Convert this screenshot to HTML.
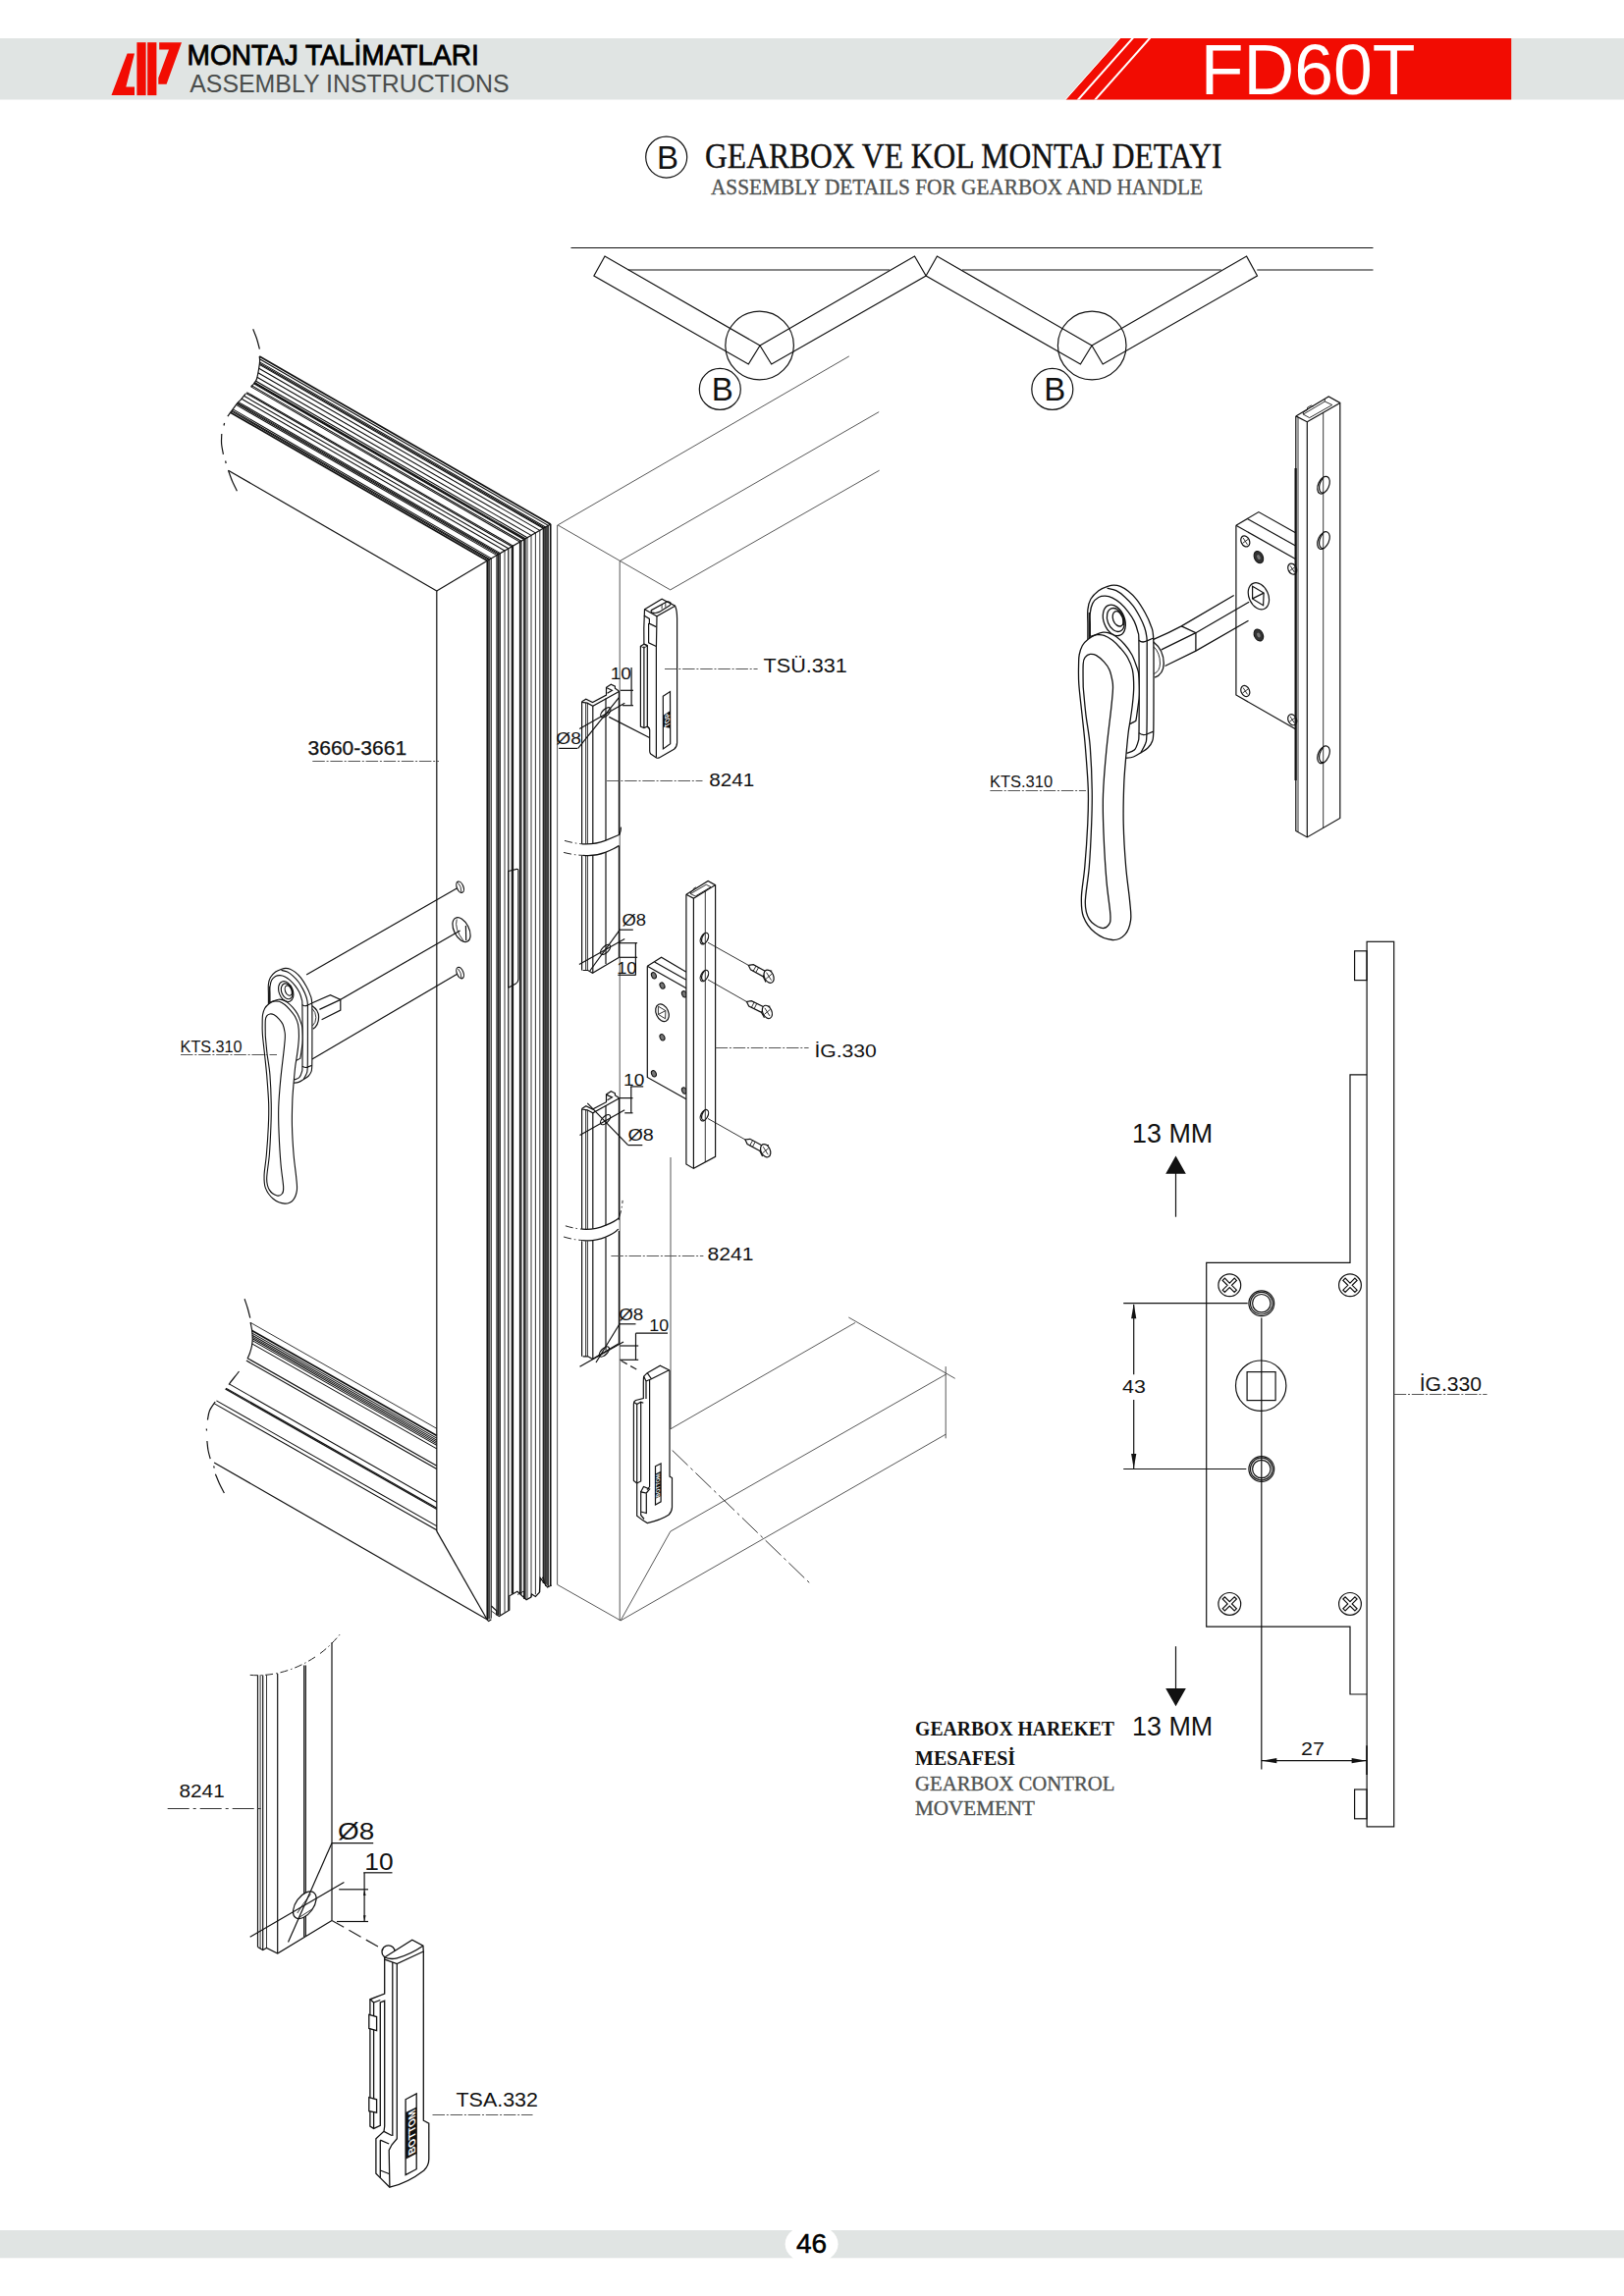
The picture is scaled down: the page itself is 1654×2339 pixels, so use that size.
<!DOCTYPE html>
<html lang="tr"><head><meta charset="utf-8"><title>FD60T - Montaj Talimatları</title>
<style>
html,body{margin:0;padding:0;background:#fff}
body{width:1654px;height:2339px;overflow:hidden}
svg{display:block}
svg *{fill:none}
.k{stroke:#111;stroke-width:1.2}
.k2{stroke:#111;stroke-width:1.7}
.m{stroke:#111;stroke-width:1.2}
.h{stroke:#111;stroke-width:1.3}
.hw{stroke:#111;stroke-width:1.3;fill:#fff}
.t{stroke:#111;stroke-width:.85}
.tr{stroke:#0a0a0a;stroke-width:1.05}
.g{stroke:#3a3a3a;stroke-width:.85}
.w{stroke:#111;stroke-width:1.2;fill:#fff}
.wf{stroke:none;fill:#fff}
.d{stroke:#555;stroke-width:1;stroke-dasharray:12.5 1.8 2 1.8}
.dd{stroke:#222;stroke-width:1.2;stroke-dasharray:14 6}
.dg{stroke:#333;stroke-width:1;stroke-dasharray:22 4 3 4}
.br{stroke:#222;stroke-width:1;stroke-dasharray:8 3 1.5 3}
.f{fill:#111;stroke:none}
text{font-family:"Liberation Sans",Arial,sans-serif;fill:#111;stroke:none}
text.s{fill:#111}
text.sb{fill:#000;stroke:#000;stroke-width:.5}
text.gr{fill:#4a4d4c}
text.wh{fill:#fff}
text.se{font-family:"Liberation Serif","Times New Roman",serif;fill:#111;stroke:#111;stroke-width:.4}
text.seg{font-family:"Liberation Serif","Times New Roman",serif;fill:#505352;stroke:#505352;stroke-width:.35}
text.seb{font-family:"Liberation Serif","Times New Roman",serif;fill:#111;font-weight:bold}
</style></head>
<body>
<svg width="1654" height="2339" viewBox="0 0 1654 2339">
<rect x="0" y="39" width="1654" height="62.5" style="fill:#e0e4e3;stroke:none"/>
<polygon points="1141,39 1539.2,39 1539.2,101.5 1085.5,101.5" style="fill:#f20c02;stroke:none"/>
<line x1="1140.6" y1="39" x2="1085.1" y2="101.5" style="stroke:#fff;stroke-width:1"/>
<polygon points="1152.2,39 1154.9,39 1099.4,101.5 1096.7,101.5" style="fill:#fff;stroke:none"/>
<polygon points="1169.6,39 1172.3,39 1116.8,101.5 1114.1,101.5" style="fill:#fff;stroke:none"/>
<text class="wh" x="1222.8" y="96" font-size="71.6">FD60T</text>
<g style="fill:#f20c02;stroke:none">
<polygon style="fill:#f20c02" points="129.6,54.6 137,54.6 128.3,88.5 137,88.5 137,97.1 113.5,97.1"/>
<rect style="fill:#f20c02" x="139.4" y="43.2" width="9.2" height="53.9"/>
<rect style="fill:#f20c02" x="150.2" y="43.2" width="9.2" height="53.9"/>
<polygon style="fill:#f20c02" points="162.2,43.2 185,43.2 169.6,85.7 161.3,85.7 161.3,79.3 172,50.6 162.2,50.6"/>
</g>
<text class="sb" x="190.6" y="65.8" font-size="28.6" textLength="297.2" lengthAdjust="spacingAndGlyphs" style="stroke-width:.8">MONTAJ TALİMATLARI</text>
<text class="gr" x="193.2" y="94.3" font-size="24.9">ASSEMBLY INSTRUCTIONS</text>
<circle class="k" cx="678.7" cy="160.1" r="21"/>
<text class="s" x="679.9" y="171.7" font-size="33" text-anchor="middle">B</text>
<text class="se" x="718.1" y="171.2" font-size="36" textLength="526.5" lengthAdjust="spacingAndGlyphs">GEARBOX VE KOL MONTAJ DETAYI</text>
<text class="seg" x="724" y="198" font-size="23" textLength="501" lengthAdjust="spacingAndGlyphs">ASSEMBLY DETAILS FOR GEARBOX AND HANDLE</text>
<rect x="0" y="2272" width="1654" height="28.3" style="fill:#e0e4e3;stroke:none"/>
<ellipse cx="826.6" cy="2286" rx="27" ry="20" style="fill:#fff;stroke:none"/>
<text class="sb" x="826.6" y="2294.6" font-size="28" text-anchor="middle">46</text>
<line class="k" x1="581.5" y1="252.5" x2="1398.5" y2="252.5"/>
<line class="k" x1="639.8" y1="275" x2="906.2" y2="275"/>
<line class="k" x1="979.8" y1="275" x2="1243.8" y2="275"/>
<line class="k" x1="1280.3" y1="275" x2="1398.5" y2="275"/>
<polyline class="k" points="774,352 616,261 604.9,281 762.3,371 774,352"/>
<polyline class="k" points="774,352 931.5,261 943.1,281 785.7,371 774,352"/>
<polyline class="k" points="1112,352 954.4,261 943.1,281 1100.4,371 1112,352"/>
<polyline class="k" points="1112,352 1269.6,261 1280.5,281 1123.2,371 1112,352"/>
<circle class="k" cx="773.6" cy="352" r="34.8"/>
<circle class="k" cx="1112.2" cy="352" r="34.8"/>
<circle class="k" cx="733.3" cy="396.4" r="21"/>
<circle class="k" cx="1071.8" cy="396.4" r="21"/>
<text class="s" x="735.7" y="407.9" font-size="33" text-anchor="middle">B</text>
<text class="s" x="1074.2" y="407.9" font-size="33" text-anchor="middle">B</text>
<polygon class="f" points="555.6,537 558.4,535.4 558.4,1616.5 555.6,1613" style="fill:#484848"/>
<line class="k2" x1="234.7" y1="420.2" x2="496.3" y2="571.2"/>
<line class="k2" x1="496.3" y1="570.9" x2="496.3" y2="1650"/>
<line class="tr" x1="235.7" y1="418.9" x2="497.9" y2="570.3"/>
<line class="k" x1="497.9" y1="570" x2="497.9" y2="1649.5"/>
<line class="tr" x1="236.3" y1="418.1" x2="498.9" y2="569.7"/>
<line class="t" x1="498.9" y1="569.4" x2="498.9" y2="1649.2"/>
<line class="tr" x1="237.2" y1="416.9" x2="500.4" y2="568.9"/>
<line class="t" x1="500.4" y1="568.6" x2="500.4" y2="1648.7"/>
<line class="tr" x1="240.5" y1="412.4" x2="506" y2="565.6"/>
<line class="k" x1="506" y1="565.3" x2="506" y2="1645.3"/>
<line class="tr" x1="241.3" y1="411.3" x2="507.3" y2="564.9"/>
<line class="k" x1="507.3" y1="564.6" x2="507.3" y2="1645.3"/>
<line class="tr" x1="241.9" y1="410.5" x2="508.3" y2="564.3"/>
<line class="t" x1="508.3" y1="564" x2="508.3" y2="1645.3"/>
<line class="tr" x1="242.8" y1="409.6" x2="509.5" y2="563.6"/>
<line class="t" x1="509.5" y1="563.3" x2="509.5" y2="1645.3"/>
<line class="tr" x1="246" y1="406.3" x2="514" y2="561"/>
<line class="t" x1="514" y1="560.7" x2="514" y2="1642.6"/>
<line class="tr" x1="248.4" y1="403.3" x2="517.8" y2="558.8"/>
<line class="k" x1="517.8" y1="558.5" x2="517.8" y2="1640.7"/>
<line class="tr" x1="250.6" y1="400.5" x2="521.3" y2="556.8"/>
<line class="k" x1="521.3" y1="556.5" x2="521.3" y2="1623.8"/>
<line class="tr" x1="251.4" y1="399.6" x2="522.5" y2="556.1"/>
<line class="k" x1="522.5" y1="555.8" x2="522.5" y2="1623.8"/>
<line class="tr" x1="255.6" y1="393.9" x2="529.5" y2="552.1"/>
<line class="k" x1="529.5" y1="551.8" x2="529.5" y2="1623.8"/>
<line class="tr" x1="256.6" y1="392.9" x2="530.9" y2="551.3"/>
<line class="k" x1="530.9" y1="551" x2="530.9" y2="1624.5"/>
<line class="k2" x1="258.7" y1="390.5" x2="534" y2="549.5"/>
<line class="k2" x1="534" y1="549.2" x2="534" y2="1629"/>
<line class="tr" x1="259.3" y1="389.5" x2="535.2" y2="548.8"/>
<line class="t" x1="535.2" y1="548.5" x2="535.2" y2="1629"/>
<line class="tr" x1="260.3" y1="388" x2="537" y2="547.7"/>
<line class="t" x1="537" y1="547.4" x2="537" y2="1629"/>
<line class="tr" x1="261.8" y1="384.2" x2="541" y2="545.4"/>
<line class="t" x1="541" y1="545.1" x2="541" y2="1627"/>
<line class="tr" x1="262.8" y1="379.7" x2="545.4" y2="542.9"/>
<line class="t" x1="545.4" y1="542.6" x2="545.4" y2="1624.3"/>
<line class="tr" x1="263.7" y1="375.2" x2="549.8" y2="540.4"/>
<line class="t" x1="549.8" y1="540.1" x2="549.8" y2="1622"/>
<line class="tr" x1="264.2" y1="371.4" x2="553.3" y2="538.3"/>
<line class="k" x1="553.3" y1="538" x2="553.3" y2="1613"/>
<line class="tr" x1="264.3" y1="370.2" x2="554.4" y2="537.7"/>
<line class="t" x1="554.4" y1="537.4" x2="554.4" y2="1613"/>
<line class="tr" x1="264.5" y1="368.9" x2="555.6" y2="537"/>
<line class="t" x1="555.6" y1="536.7" x2="555.6" y2="1616"/>
<line class="tr" x1="264.4" y1="365.7" x2="558.4" y2="535.4"/>
<line class="t" x1="558.4" y1="535.1" x2="558.4" y2="1616"/>
<line class="k2" x1="264.2" y1="362.9" x2="560.7" y2="534.1"/>
<line class="k2" x1="560.7" y1="533.8" x2="560.7" y2="1616"/>
<path class="k" d="M264.2 363.1C264.3 363.9 264.7 365.9 264.6 368C264.5 370.1 264.1 372.7 263.6 375.7C263.1 378.7 262.3 383.6 261.4 386.2C260.5 388.8 259.3 389.7 258.4 391C257.4 392.3 256.1 393.3 255.7 393.8"/>
<path class="k" d="M250.2 401C249.4 402 246.7 405.5 245.3 407.1C243.9 408.7 243.3 408.7 241.8 410.6C240.3 412.5 237.8 416.1 236.1 418.4C234.4 420.6 232.5 423.2 231.8 424.1"/>
<line class="k" x1="496.2" y1="571.3" x2="560.7" y2="534.1"/>
<polyline class="k" points="495.9,1649.8 497.7,1651.6 500.4,1649.8"/>
<polyline class="k" points="500.4,1636 505.8,1641 505.8,1645 508.4,1646.5 518.8,1640.2 518.8,1625.8 526.9,1621.3 536.1,1629.8 540.9,1627 541.5,1624 545.4,1626.5 549.4,1622.2 550.2,1607.3 557.6,1617 561.6,1615"/>
<polyline class="t" points="500.4,1641 505.8,1645"/>
<polyline class="t" points="527,1624.5 533.6,1621 533.6,1627.5"/>
<polyline class="t" points="550.3,1611 553.2,1606.5 555,1613"/>
<line class="k" x1="232.5" y1="479.2" x2="444.8" y2="602"/>
<line class="k" x1="444.8" y1="602" x2="496.2" y2="571.3"/>
<line class="k" x1="444.8" y1="602" x2="444.8" y2="1559.9"/>
<line class="k" x1="444.8" y1="1559.9" x2="496" y2="1649.7"/>
<line class="k" x1="496" y1="1649.7" x2="218.1" y2="1490"/>
<line class="t" x1="255.2" y1="1347.4" x2="444.8" y2="1455.3"/>
<line class="k2" x1="256.6" y1="1355.5" x2="444.8" y2="1462.6"/>
<line class="tr" x1="256.8" y1="1358.1" x2="444.8" y2="1465.1"/>
<line class="tr" x1="256.9" y1="1360.2" x2="444.8" y2="1467.1"/>
<line class="tr" x1="257.1" y1="1362.1" x2="444.8" y2="1468.9"/>
<line class="tr" x1="257.2" y1="1363.8" x2="444.8" y2="1470.6"/>
<line class="tr" x1="257" y1="1365.6" x2="444.8" y2="1472.4"/>
<line class="tr" x1="256.7" y1="1368.9" x2="444.8" y2="1475.9"/>
<line class="k" x1="252.2" y1="1383.7" x2="444.8" y2="1493.3"/>
<line class="k" x1="250.9" y1="1386.1" x2="444.8" y2="1496.4"/>
<line class="tr" x1="233.4" y1="1409.9" x2="444.8" y2="1530.2"/>
<line class="k" x1="230.1" y1="1414.2" x2="444.8" y2="1536.3"/>
<line class="k" x1="229.5" y1="1415" x2="444.8" y2="1537.5"/>
<line class="tr" x1="220.4" y1="1426.9" x2="444.8" y2="1554.6"/>
<line class="tr" x1="218.3" y1="1429.9" x2="444.8" y2="1558.8"/>
<path class="k" d="M255.1 1347.1C255.3 1348.4 256.2 1352.2 256.6 1355C257 1357.8 257.2 1361.3 257.2 1364C257.2 1366.7 256.9 1368.7 256.5 1371C256.1 1373.3 255.3 1375.8 254.6 1378C253.9 1380.2 252.5 1383.1 252.1 1384.1"/>
<path class="k" d="M243.5 1397C242.6 1398.2 239.8 1401.8 238 1404C236.2 1406.2 233.8 1409.4 233 1410.5"/>
<path class="m" d="M257.7 335.2C258.3 336.8 260.4 341.6 261.5 345C262.6 348.4 263.9 353.9 264.4 355.7"/>
<path class="m" d="M228.6 431C228.5 431.4 228.1 433.1 228 433.5"/>
<path class="m" d="M225.8 441.9C225.8 443.6 225.3 448.5 225.6 452C225.9 455.5 227.1 461 227.4 462.8"/>
<path class="m" d="M229.6 469.5C229.7 469.9 230.1 471.6 230.2 472"/>
<path class="m" d="M232.5 479.2C233.2 481 235 486.5 236.5 490C238 493.5 240.6 498.6 241.4 500.3"/>
<path class="m" d="M249.1 1323.3C249.6 1324.9 251.4 1329.8 252.3 1333C253.2 1336.2 254.4 1341.1 254.8 1342.7"/>
<path class="m" d="M219.2 1428C218.2 1429.5 214.8 1433.9 213.5 1437C212.2 1440.1 211.8 1444.9 211.4 1446.5"/>
<path class="m" d="M210.3 1455.5C210.3 1455.8 210.5 1457.2 210.5 1457.5"/>
<path class="m" d="M210.9 1468C211.1 1469.6 211.4 1474.5 212 1477.5C212.6 1480.5 213.8 1484.8 214.2 1486.2"/>
<path class="m" d="M217.6 1493.5C217.7 1493.8 218.2 1495.2 218.3 1495.5"/>
<path class="m" d="M219.4 1501.7C220.1 1503.3 222 1508.3 223.5 1511.5C225 1514.7 227.6 1519.5 228.4 1521.1"/>
<path class="k" d="M517.6 887.5L526.3 885.4Q527.9 885.2 527.9 887V997.5Q527.9 1000.5 525.5 1002L517.6 1006.2"/>
<line class="k" x1="517.6" y1="887.5" x2="517.6" y2="1006.2"/>
<text class="s" x="313.5" y="769.3" font-size="19.6" textLength="100.6" lengthAdjust="spacingAndGlyphs" style="stroke:#111;stroke-width:.25">3660-3661</text>
<line class="d" x1="318.3" y1="775.5" x2="447" y2="775.5"/>
<line class="g" x1="568.1" y1="534.9" x2="864.8" y2="362.9"/>
<line class="g" x1="568.1" y1="534.9" x2="682.7" y2="600.9"/>
<line class="g" x1="631.2" y1="571.6" x2="895.2" y2="419.6"/>
<line class="g" x1="682.7" y1="600.9" x2="895.6" y2="479.2"/>
<line class="g" x1="567.6" y1="534.9" x2="567.6" y2="1614.3"/>
<line class="g" x1="567.6" y1="1614.3" x2="632.1" y2="1650.9"/>
<line class="g" x1="631.2" y1="571.6" x2="631.2" y2="1650.9"/>
<line class="g" x1="683" y1="1179" x2="683" y2="1455.8"/>
<line class="g" x1="682.8" y1="1455.8" x2="871.1" y2="1347.4"/>
<line class="g" x1="864.3" y1="1342" x2="972.7" y2="1404.3"/>
<line class="g" x1="682.8" y1="1560.1" x2="963.2" y2="1400.2"/>
<line class="g" x1="682.8" y1="1560.1" x2="632.1" y2="1650.9"/>
<line class="g" x1="632.1" y1="1650.9" x2="963.2" y2="1461.2"/>
<line class="g" x1="963.2" y1="1392.1" x2="963.2" y2="1465.3"/>
<line class="dg" x1="684.7" y1="1477.5" x2="826.3" y2="1614.3"/>
<line class="k" x1="312.1" y1="993.1" x2="465.2" y2="905.1"/>
<line class="k" x1="346.8" y1="1018.3" x2="468.6" y2="948.1"/>
<line class="k" x1="317.9" y1="1079" x2="465.2" y2="992.5"/>
<ellipse class="m" cx="468.6" cy="903.7" rx="3.3" ry="6" transform="rotate(-22 468.6 903.7)"/>
<path class="t" d="M466.6 899.5Q470 903 469.8 909"/>
<ellipse class="m" cx="468.6" cy="991.1" rx="3.3" ry="6" transform="rotate(-22 468.6 991.1)"/>
<path class="t" d="M466.6 987Q470 990.5 469.8 996.5"/>
<ellipse class="k" cx="470" cy="947.1" rx="7.6" ry="13.4" transform="rotate(-27 470 947.1)"/>
<path class="t" d="M465.2 936.5Q462.5 946 472 958.5"/>
<line class="m" x1="474.4" y1="943" x2="474.7" y2="958"/>
<polyline class="k" points="318,1021.7 336.5,1013.6 346.8,1018.4 346.8,1029.1 327.6,1038.7"/>
<line class="k" x1="346.8" y1="1018.4" x2="325.4" y2="1028.4"/>
<path class="k" d="M318 1024.7Q324.6 1029 324.6 1036Q324.6 1044.6 318.7 1048.3"/>
<path class="t" d="M318 1027.5Q321.8 1031 321.8 1036.5Q321.8 1042 318.3 1045"/>
<g transform="translate(-461.7 590.8) scale(0.6635)" style="stroke-width:1.7">
<path class="hw" d="M1107.9 652C1107.9 649.3 1107.9 641.2 1107.9 636C1107.9 630.8 1107.4 625.1 1107.9 620.8C1108.4 616.5 1109.1 613.5 1110.9 610.3C1112.7 607.1 1116 603.9 1118.9 601.7C1121.8 599.6 1125.6 598.3 1128.2 597.4C1130.8 596.5 1132.2 596.2 1134.3 596.2C1136.4 596.2 1138.6 596.4 1141.1 597.4C1143.6 598.4 1146.3 600 1149.1 602.3C1151.9 604.5 1154.8 607.2 1157.7 610.9C1160.6 614.6 1164 620.2 1166.4 624.5C1168.8 628.8 1170.5 632.5 1171.9 636.8C1173.3 641.1 1174.2 639.8 1174.7 650.3C1175.2 660.8 1175 684.2 1175 700C1175 715.8 1175 735.8 1174.8 745C1174.5 754.2 1174.4 752.5 1173.5 755.3C1172.6 758.1 1171.1 759.9 1169.2 761.8C1167.3 763.7 1164.7 765.1 1162.2 766.6C1159.7 768.1 1157 770 1154.4 771C1151.8 772 1147.8 772.1 1146.5 772.3" style="stroke-width:inherit"/>
<line class="h" x1="1109.3" y1="624" x2="1109.3" y2="650" style="stroke-width:inherit"/>
<path class="h" d="M1127.6 599.2C1129.1 599.6 1133.8 600.2 1136.8 601.7C1139.8 603.2 1142.5 605.3 1145.4 607.9C1148.3 610.5 1151.4 613.7 1154 617.1C1156.6 620.5 1158.8 624.5 1160.8 628.2C1162.8 631.9 1164.5 635.8 1165.7 639.3C1166.9 642.8 1167.5 645.6 1167.9 649.1C1168.3 652.6 1168.2 651.5 1168.2 660C1168.2 668.5 1168.2 685.4 1168.2 700C1168.2 714.6 1168.2 738.3 1167.9 747.9C1167.6 757.5 1167.5 754.5 1166.6 757.5C1165.6 760.5 1162.9 764.8 1162.2 766.2" style="stroke-width:inherit"/>
<path class="h" d="M1110.3 648.5C1110.3 646.4 1110.3 640 1110.3 636C1110.3 632 1109.9 628.1 1110.3 624.5C1110.7 620.9 1111.4 617.3 1112.8 614.6C1114.2 611.9 1116.8 609.7 1118.9 608.5C1121.1 607.3 1123.3 607.1 1125.7 607.2C1128.1 607.3 1130.5 607.9 1133.1 609.1C1135.7 610.3 1138.4 612.2 1141.1 614.6C1143.8 617 1146.7 620.2 1149.1 623.3C1151.5 626.4 1153.6 629.6 1155.3 633.1C1157 636.6 1158.2 641 1159 644.2C1159.8 647.4 1159.7 642.9 1159.9 652.2C1160.1 661.5 1160.2 684.3 1160.2 700C1160.2 715.7 1160.2 737.4 1160 746.6C1159.8 755.8 1160 752.4 1159.2 755.3C1158.4 758.2 1157.3 762 1155.3 764C1153.3 766 1148.7 766.9 1147.4 767.5" style="stroke-width:inherit"/>
<path class="h" d="M1159.9 652.2Q1163.3 655.5 1168.2 652.8L1174.7 650" style="stroke-width:inherit"/>
<path class="h" d="M1160 746.6Q1163 749.6 1167.9 748L1174.8 745.2" style="stroke-width:inherit"/>
<ellipse class="h" cx="1134.8" cy="631.9" rx="10.6" ry="16.4" transform="rotate(-21 1134.8 631.9)" style="stroke-width:inherit"/>
<ellipse class="h" cx="1136.3" cy="631.5" rx="8.3" ry="12.4" transform="rotate(-21 1136.3 631.5)" style="stroke-width:inherit"/>
<ellipse class="h" cx="1138.8" cy="630.3" rx="5.2" ry="8" transform="rotate(-21 1138.8 630.3)" style="stroke-width:inherit"/>
<path class="h" d="M1138.5 622.5Q1144.5 627 1144.2 637" style="stroke-width:inherit"/>
<path class="hw" d="M1146.6 772.5C1146.3 777 1145.1 788.4 1144.7 799.4C1144.3 810.4 1143.9 824.8 1144.2 838.8C1144.5 852.8 1145.6 870.1 1146.7 883.2C1147.8 896.3 1149.8 908.6 1150.6 917.6C1151.4 926.6 1152.4 931.5 1151.6 937.3C1150.8 943 1148.8 948.7 1145.7 952.1C1142.6 955.5 1138 957.8 1132.9 957.5C1127.8 957.2 1120.1 954.1 1115.2 950.1C1110.3 946.1 1105.6 939.5 1103.3 933.4C1101 927.3 1101.2 922.1 1101.4 913.7C1101.7 905.3 1103.7 895.7 1104.8 883.2C1105.9 870.7 1107.2 851.9 1107.8 838.8C1108.4 825.6 1108.7 817.4 1108.3 804.3C1107.9 791.2 1106.3 772.8 1105.3 760C1104.2 747.2 1103.1 738.3 1102 727.8C1100.9 717.3 1099.4 705.6 1098.8 697C1098.2 688.4 1098.5 681 1098.6 676C1098.7 671 1098.6 670 1099.2 667C1099.8 664 1100.8 660.4 1102.3 657.7C1103.8 655 1106.2 652.8 1108.5 651C1110.8 649.2 1113.4 647.8 1115.9 646.7C1118.4 645.6 1121 644.5 1123.3 644.2C1125.5 643.9 1127.2 644.1 1129.4 644.8C1131.7 645.5 1134.1 646.5 1136.8 648.5C1139.5 650.5 1142.7 653.4 1145.4 656.5C1148.1 659.6 1150.8 663.2 1152.8 667C1154.8 670.8 1156.6 676.1 1157.7 679.3C1158.8 682.5 1159.2 682.5 1159.6 686C1160 689.5 1160.1 695.7 1160.2 700C1160.3 704.3 1160.3 707.7 1160 711.8C1159.7 715.9 1158.8 721.2 1158.3 724.8C1157.8 728.4 1157.4 731.8 1157 733.5C1156.6 735.2 1157.1 734.1 1156.1 734.8C1155.1 735.5 1151.9 736.9 1150.9 737.5C1150 738.1 1150.7 737.1 1150.4 738.5C1150.1 739.9 1149.7 741.8 1149.2 746C1148.7 750.2 1147.8 759.6 1147.4 764C1147 768.4 1146.7 771.1 1146.6 772.5" style="stroke-width:inherit"/>
<path class="h" d="M1110.3 648.5C1111.4 648.2 1114.7 646.9 1117.1 646.7C1119.5 646.5 1121.8 646.4 1124.5 647.3C1127.2 648.2 1130.3 650.1 1133.1 652.2C1135.9 654.4 1138.5 657.2 1141.1 660.2C1143.7 663.2 1146.5 666.3 1148.5 670C1150.5 673.7 1152.4 677.4 1153.4 682.4C1154.4 687.4 1154.7 694 1154.7 700C1154.7 706 1154 712 1153.3 718.3C1152.6 724.6 1151 734.6 1150.5 737.9" style="stroke-width:inherit"/>
<path class="h" d="M1103.2 700C1103.2 696 1102.8 681.3 1103.2 676.2C1103.6 671.1 1104.2 671 1105.4 669.4C1106.6 667.8 1108.5 666.7 1110.3 666.4C1112.1 666.1 1114.1 666.3 1116.5 667.6C1118.9 668.9 1122.2 671.9 1124.5 674.4C1126.8 676.9 1128.6 679 1130 682.4C1131.4 685.8 1132.5 691.3 1133.1 694.7C1133.7 698.1 1133.6 698.5 1133.4 703C1133.2 707.5 1132.8 711.3 1131.7 721.6C1130.6 731.9 1128.2 750.1 1126.8 764.7C1125.4 779.3 1124 795.3 1123.5 809.3C1123 823.3 1123.4 833.9 1124 848.7C1124.6 863.5 1125.8 884 1127 897.9C1128.2 911.8 1130.6 925 1130.9 932.4C1131.2 939.8 1130.6 940.2 1129 942.3C1127.4 944.4 1124.4 946.2 1121.1 945.2C1117.8 944.2 1111.9 940.7 1109.3 936.4C1106.7 932.1 1105.3 928.5 1105.3 919.6C1105.3 910.7 1108.2 896.7 1109.3 883.2C1110.4 869.7 1111.2 851.9 1111.7 838.8C1112.2 825.6 1112.5 817.4 1112.2 804.3C1112 791.2 1111.2 772.8 1110.2 760C1109.2 747.2 1107.1 737.8 1105.9 727.8C1104.7 717.8 1103.7 704.6 1103.2 700" style="stroke-width:inherit"/>
</g>
<text class="s" x="183.6" y="1071.8" font-size="16" textLength="63" lengthAdjust="spacingAndGlyphs">KTS.310</text>
<line class="d" x1="184" y1="1074.5" x2="282" y2="1074.5"/>
<path class="w" d="M656.5 620.8L674.1 610.2L687.6 617.2Q689.6 622 689.6 630V756.6Q689.4 761 686.5 763.2L671.3 771.9Q669.8 772.6 668.6 771.9L662.7 768Q661.7 767 661.7 765V744Q661.7 741.8 659.2 740.2V657.5L655.9 656L655.8 640Z"/>
<path class="m" d="M656.5 620.8L669 627.8L687.6 617.2"/>
<path class="m" d="M663.4 621.6L678.6 613.2Q681.2 612 683 614.2Q683.8 615.6 681.8 616.9L671.4 623.4Q667.5 625.2 664.6 624Q662.3 623 663.4 621.6Z"/>
<path class="t" d="M674.1 616V620.4M677.8 614V618.6"/>
<path class="m" d="M669 627.8L668.4 660V771.8"/>
<path class="m" d="M655.9 627L661.4 630.4V635.2M660.6 634.9L668.4 638.6M660.6 634.9V654.9L668.4 658.5"/>
<path class="w" d="M652.4 740V658.3L655.9 656.2L659.3 658V740L655.9 741.5Z"/>
<line class="m" x1="655.9" y1="658.5" x2="655.9" y2="741.3"/>
<path class="t" d="M652.4 658.3L655.9 660L659.3 658"/>
<path class="m" d="M659.3 739.9Q661.8 741.4 661.8 743.6"/>
<polygon class="m" points="675.3,709.2 682.5,704.5 682.7,757.8 675.4,762.9"/>
<polygon class="f" points="675.3,729 682.6,724 682.6,741.8 675.3,740.5"/>
<text transform="matrix(0 -1 1 -0.65 681.9 739.2)" font-size="7" textLength="14" lengthAdjust="spacingAndGlyphs" style="fill:#fff;font-weight:bold">TOP</text>
<line class="m" x1="620.3" y1="730.4" x2="661.5" y2="751.5"/>
<text class="s" x="777.6" y="685.1" font-size="19.6" textLength="85.2" lengthAdjust="spacingAndGlyphs">TSÜ.331</text>
<line class="d" x1="677" y1="681.5" x2="771.6" y2="681.5"/>
<line class="k" x1="592.6" y1="714.8" x2="592.6" y2="859.7"/>
<line class="k" x1="592.6" y1="871.7" x2="592.6" y2="988.5"/>
<line class="t" x1="596.6" y1="716" x2="596.6" y2="859.7"/>
<line class="t" x1="596.6" y1="871.7" x2="596.6" y2="988.5"/>
<line class="t" x1="598.4" y1="716.2" x2="598.4" y2="859.7"/>
<line class="t" x1="598.4" y1="871.7" x2="598.4" y2="988.5"/>
<line class="k" x1="603.8" y1="719.2" x2="603.8" y2="859.4"/>
<line class="k" x1="603.8" y1="871.4" x2="603.8" y2="991.3"/>
<line class="k" x1="617" y1="711.4" x2="617" y2="856.1"/>
<line class="k" x1="617" y1="868.1" x2="617" y2="982.1"/>
<line class="k" x1="630.4" y1="704" x2="630.4" y2="850.4"/>
<line class="k" x1="630.4" y1="861.4" x2="630.4" y2="975.2"/>
<path class="m" d="M592.6 714.8L596.8 712.2L603.5 715.5L617.5 708.1L617.5 700.3L622.3 697.2L626.4 699.2L626.4 701.2L630.4 704"/>
<path class="m" d="M592.6 715.4L598.2 716.2L603.8 719.2L630.4 704.4"/>
<path class="m" d="M618 700.8L623.4 703.3L618.5 706.2"/>
<path class="m" d="M593.6 988.5L598.8 988.5L603.5 991.3L630.6 975.2"/>
<path class="m" d="M593 859.8Q606 860.5 616.4 856.4Q627 852 631 850.3"/>
<path class="br" d="M575 856.4Q584 859 593 859.8"/>
<path class="m" d="M631 850.3Q632.6 846 632.4 842.6"/>
<path class="m" d="M594 871.4Q606 872.5 616.4 868.4Q626 864.8 630.2 861.6"/>
<path class="br" d="M574.1 868.4Q584 871 594 871.4"/>
<path class="wf" d="M630.9 861.4V850.5"/>
<ellipse class="m" cx="616.8" cy="725.8" rx="6.4" ry="3.2" transform="rotate(-45 616.8 725.8)"/>
<line class="m" x1="588.7" y1="762.4" x2="630.4" y2="710.7"/>
<line class="m" x1="590.2" y1="742.5" x2="636.3" y2="716.2"/>
<text class="s" x="566.3" y="757.5" font-size="17" textLength="25.6" lengthAdjust="spacingAndGlyphs">Ø8</text>
<line class="m" x1="569.2" y1="762.4" x2="588.3" y2="762.4"/>
<text class="s" x="621.7" y="691.6" font-size="17" textLength="21.2" lengthAdjust="spacingAndGlyphs">10</text>
<line class="m" x1="643.1" y1="679.9" x2="643.1" y2="718.7"/>
<line class="m" x1="632" y1="703.3" x2="645" y2="703.3"/>
<line class="m" x1="633.9" y1="718.7" x2="645" y2="718.7"/>
<text class="s" x="722.2" y="801.2" font-size="18" textLength="46.1" lengthAdjust="spacingAndGlyphs">8241</text>
<line class="d" x1="618.1" y1="795.5" x2="715.5" y2="795.5"/>
<ellipse class="m" cx="616.6" cy="967.4" rx="6.4" ry="3.2" transform="rotate(-45 616.6 967.4)"/>
<line class="m" x1="630.6" y1="948.2" x2="600.8" y2="989"/>
<line class="m" x1="636.2" y1="956.5" x2="589.9" y2="982.6"/>
<text class="s" x="633.4" y="942.6" font-size="17" textLength="24.6" lengthAdjust="spacingAndGlyphs">Ø8</text>
<line class="m" x1="631" y1="947.2" x2="644.8" y2="947.2"/>
<line class="m" x1="631" y1="960.7" x2="649.1" y2="960.7"/>
<line class="m" x1="631" y1="975.3" x2="649.1" y2="975.3"/>
<line class="m" x1="647.4" y1="960.7" x2="647.4" y2="993.4"/>
<text class="s" x="628.2" y="991.7" font-size="17" textLength="20.3" lengthAdjust="spacingAndGlyphs">10</text>
<line class="m" x1="629.3" y1="993.3" x2="647.4" y2="993.3"/>
<line class="k" x1="592.6" y1="1129.4" x2="592.6" y2="1252.1"/>
<line class="k" x1="592.6" y1="1264.3" x2="592.6" y2="1381.8"/>
<line class="t" x1="596.6" y1="1130.6" x2="596.6" y2="1252.1"/>
<line class="t" x1="596.6" y1="1264.3" x2="596.6" y2="1381.8"/>
<line class="t" x1="598.4" y1="1130.8" x2="598.4" y2="1252.1"/>
<line class="t" x1="598.4" y1="1264.3" x2="598.4" y2="1381.8"/>
<line class="k" x1="603.8" y1="1133.8" x2="603.8" y2="1251.8"/>
<line class="k" x1="603.8" y1="1264" x2="603.8" y2="1384.6"/>
<line class="k" x1="617" y1="1126" x2="617" y2="1248.5"/>
<line class="k" x1="617" y1="1260.7" x2="617" y2="1375.4"/>
<line class="k" x1="630.4" y1="1118.6" x2="630.4" y2="1242.8"/>
<line class="k" x1="630.4" y1="1254" x2="630.4" y2="1368.5"/>
<path class="m" d="M592.6 1129.4L596.8 1126.8L603.5 1130.1L617.5 1122.7L617.5 1114.9L622.3 1111.8L626.4 1113.8L626.4 1115.8L630.4 1118.6"/>
<path class="m" d="M592.6 1130L598.2 1130.8L603.8 1133.8L630.4 1119"/>
<path class="m" d="M618 1115.4L623.4 1117.9L618.5 1120.8"/>
<path class="m" d="M593.6 1381.8L598.8 1381.8L603.5 1384.6L630.6 1368.5"/>
<path class="m" d="M593 1252.2Q606 1253 616.4 1248.4Q627 1244 630.2 1241"/>
<path class="br" d="M575.9 1248.8Q584 1251.4 593 1252.2"/>
<path class="br" d="M630.2 1241Q633.6 1232 634.1 1222.9"/>
<path class="m" d="M594 1263.6Q606 1264.7 616.4 1260.4Q626 1256.5 629.7 1252.2"/>
<path class="br" d="M574.1 1260Q584 1263 594 1263.6"/>
<ellipse class="m" cx="616.6" cy="1140.6" rx="6.4" ry="3.2" transform="rotate(-45 616.6 1140.6)"/>
<line class="m" x1="639.7" y1="1166.6" x2="598.3" y2="1123.8"/>
<line class="m" x1="590.5" y1="1156.6" x2="636.2" y2="1130.7"/>
<text class="s" x="639.4" y="1161.7" font-size="17" textLength="26.4" lengthAdjust="spacingAndGlyphs">Ø8</text>
<line class="m" x1="639.7" y1="1166.6" x2="654.3" y2="1166.6"/>
<text class="s" x="635.1" y="1105.7" font-size="17" textLength="21.2" lengthAdjust="spacingAndGlyphs">10</text>
<line class="m" x1="642.2" y1="1106.9" x2="655.2" y2="1106.9"/>
<line class="m" x1="642.8" y1="1106.9" x2="642.8" y2="1133.8"/>
<line class="m" x1="630.2" y1="1118.6" x2="644.5" y2="1118.6"/>
<line class="m" x1="636.2" y1="1133.8" x2="644.5" y2="1133.8"/>
<text class="s" x="720.5" y="1284.1" font-size="18" textLength="47" lengthAdjust="spacingAndGlyphs">8241</text>
<line class="d" x1="622.4" y1="1279.5" x2="716.4" y2="1279.5"/>
<ellipse class="m" cx="615.4" cy="1377" rx="6.4" ry="3.2" transform="rotate(-45 615.4 1377)"/>
<line class="m" x1="631" y1="1348.8" x2="607" y2="1388"/>
<line class="m" x1="590.5" y1="1392.2" x2="635" y2="1367"/>
<text class="s" x="630.2" y="1344.7" font-size="17" textLength="25.2" lengthAdjust="spacingAndGlyphs">Ø8</text>
<line class="m" x1="630" y1="1348.8" x2="647.5" y2="1348.8"/>
<text class="s" x="661.3" y="1356" font-size="17" textLength="19.8" lengthAdjust="spacingAndGlyphs">10</text>
<line class="m" x1="647.5" y1="1358.2" x2="680" y2="1358.2"/>
<line class="m" x1="647.5" y1="1358.2" x2="647.5" y2="1385.3"/>
<line class="m" x1="631.3" y1="1371" x2="650.2" y2="1371"/>
<line class="m" x1="631.3" y1="1385.3" x2="650.2" y2="1385.3"/>
<line class="dd" x1="632.6" y1="1386.2" x2="648.9" y2="1395.4" style="stroke-dasharray:7 4"/>
<polyline class="m" points="659.3,984.3 673.6,975.3 699,990.3"/>
<polyline class="m" points="659.3,984.3 699,1006.7"/>
<line class="m" x1="666.6" y1="980" x2="699" y2="998.3"/>
<polyline class="m" points="659.3,984.3 659.3,1097.5 699,1119.7"/>
<ellipse cx="665.9" cy="993.8" rx="2.3" ry="3.3" transform="rotate(-25 665.9 993.8)" style="fill:#777;stroke:#111;stroke-width:1"/>
<ellipse cx="674.5" cy="1004.1" rx="2.3" ry="3.3" transform="rotate(-25 674.5 1004.1)" style="fill:#777;stroke:#111;stroke-width:1"/>
<ellipse cx="696.9" cy="1012.8" rx="2.3" ry="3.3" transform="rotate(-25 696.9 1012.8)" style="fill:#777;stroke:#111;stroke-width:1"/>
<ellipse cx="674.5" cy="1056.7" rx="2.3" ry="3.3" transform="rotate(-25 674.5 1056.7)" style="fill:#777;stroke:#111;stroke-width:1"/>
<ellipse cx="665.9" cy="1093.8" rx="2.3" ry="3.3" transform="rotate(-25 665.9 1093.8)" style="fill:#777;stroke:#111;stroke-width:1"/>
<ellipse cx="696.9" cy="1111" rx="2.3" ry="3.3" transform="rotate(-25 696.9 1111)" style="fill:#777;stroke:#111;stroke-width:1"/>
<ellipse class="m" cx="674.5" cy="1031.7" rx="6.2" ry="9.3" transform="rotate(-24 674.5 1031.7)"/>
<polygon class="t" points="670.4,1025.2 677.9,1029.6 677.6,1037.8 670.4,1033.4"/>
<line class="t" x1="670.4" y1="1033.4" x2="677.9" y2="1029.6"/>
<polyline class="w" points="698.9,911.3 698.9,1186 706.4,1190.4 728.6,1178.3 728.6,901.6 721.1,897.5 698.9,911.3"/>
<polyline class="m" points="698.9,911.3 706.4,915.2 706.4,1190"/>
<line class="m" x1="706.4" y1="915.2" x2="728.6" y2="901.6"/>
<line class="t" x1="718.3" y1="908" x2="718.3" y2="1184"/>
<polyline class="t" points="703.3,910.6 719.2,901.2 724,903.6 708.2,913 703.3,910.6"/>
<polyline class="t" points="703.3,910.6 703.3,908.8 706.3,907 706.3,905.3 709,903.8"/>
<ellipse class="k" cx="717.4" cy="956.1" rx="3.5" ry="6.2" transform="rotate(27 717.4 956.1)"/>
<polyline class="m" points="717.4,961.1 716.8,961.1 716.3,961.1 715.9,960.9 715.5,960.6 715.2,960.2 714.9,959.7 714.7,959.1 714.6,958.4 714.6,957.7 714.7,957 714.8,956.2 715,955.4 715.3,954.6 715.7,953.8 716.1,953.1 716.6,952.3 717.1,951.7 717.6,951.1"/>
<ellipse class="k" cx="717.4" cy="994" rx="3.5" ry="6.2" transform="rotate(27 717.4 994)"/>
<polyline class="m" points="717.4,999 716.8,999 716.3,999 715.9,998.8 715.5,998.5 715.2,998.1 714.9,997.6 714.7,997 714.6,996.3 714.6,995.6 714.7,994.9 714.8,994.1 715,993.3 715.3,992.5 715.7,991.7 716.1,991 716.6,990.2 717.1,989.6 717.6,989"/>
<ellipse class="k" cx="717.4" cy="1136.2" rx="3.5" ry="6.2" transform="rotate(27 717.4 1136.2)"/>
<polyline class="m" points="717.4,1141.2 716.8,1141.2 716.3,1141.2 715.9,1141 715.5,1140.7 715.2,1140.3 714.9,1139.8 714.7,1139.2 714.6,1138.5 714.6,1137.8 714.7,1137.1 714.8,1136.3 715,1135.5 715.3,1134.7 715.7,1133.9 716.1,1133.2 716.6,1132.4 717.1,1131.8 717.6,1131.2"/>
<line class="t" x1="721" y1="960.2" x2="762.4" y2="983.4"/>
<polygon class="m" points="762.4,983.4 764.5,987.9 777.3,994.9 780.1,989.7 767.3,982.7"/>
<line class="t" x1="767.1" y1="989.4" x2="770" y2="984.1"/>
<line class="t" x1="769.7" y1="990.8" x2="772.6" y2="985.6"/>
<polyline class="m" points="777.3,994.9 780,1000.4"/>
<polyline class="m" points="780.1,989.7 786.2,989"/>
<ellipse class="w" cx="783.1" cy="994.7" rx="4.6" ry="7" transform="rotate(-25 783.1 994.7)"/>
<line class="t" x1="780.6" y1="990.7" x2="785.6" y2="998.7"/>
<line class="t" x1="780.1" y1="997.2" x2="786.1" y2="992.2"/>
<line class="t" x1="721" y1="998" x2="760.5" y2="1020.5"/>
<polygon class="m" points="760.5,1020.5 762.7,1025 775.6,1031.4 778.3,1026 765.4,1019.6"/>
<line class="t" x1="765.4" y1="1026.3" x2="768.1" y2="1020.9"/>
<line class="t" x1="768.1" y1="1027.6" x2="770.8" y2="1022.3"/>
<polyline class="m" points="775.6,1031.4 778.5,1036.7"/>
<polyline class="m" points="778.3,1026 784.3,1025.1"/>
<ellipse class="w" cx="781.4" cy="1030.9" rx="4.6" ry="7" transform="rotate(-25 781.4 1030.9)"/>
<line class="t" x1="778.9" y1="1026.9" x2="783.9" y2="1034.9"/>
<line class="t" x1="778.4" y1="1033.4" x2="784.4" y2="1028.4"/>
<line class="t" x1="721" y1="1139.5" x2="759" y2="1161"/>
<polygon class="m" points="759,1161 761.1,1165.5 773.9,1172.5 776.7,1167.2 763.9,1160.3"/>
<line class="t" x1="763.7" y1="1167" x2="766.6" y2="1161.7"/>
<line class="t" x1="766.4" y1="1168.4" x2="769.2" y2="1163.1"/>
<polyline class="m" points="773.9,1172.5 776.6,1177.9"/>
<polyline class="m" points="776.7,1167.2 782.8,1166.5"/>
<ellipse class="w" cx="779.7" cy="1172.2" rx="4.6" ry="7" transform="rotate(-25 779.7 1172.2)"/>
<line class="t" x1="777.2" y1="1168.2" x2="782.2" y2="1176.2"/>
<line class="t" x1="776.7" y1="1174.7" x2="782.7" y2="1169.7"/>
<text class="s" x="829.4" y="1077.4" font-size="19" textLength="63.4" lengthAdjust="spacingAndGlyphs">İG.330</text>
<line class="d" x1="728.6" y1="1067.5" x2="823.6" y2="1067.5"/>
<path class="w" d="M655.7 1402.2L659.2 1398.7L672.3 1391.3L681.4 1395.7L682 1396.5V1504.1L684.5 1505.5V1535.5Q684.3 1540 681 1543.3Q673 1548.6 659.2 1551.6L654.4 1548.6L648.7 1544.2V1511L645.4 1508.5V1430Q645.4 1427.5 647.5 1426.5L655.3 1424.5V1408Q655.3 1404 655.7 1402.2Z"/>
<path class="m" d="M659.2 1398.7L663.5 1404.8L681.4 1395.7M655.7 1402.2L658 1407L663.5 1404.8M658 1407V1425"/>
<path class="m" d="M661.6 1405.6V1514.6L659 1517.6"/>
<path class="m" d="M652.7 1519.8L655.5 1514.5L661.6 1517L658.3 1521L652.7 1519.8V1543.5L656 1547.5M658.3 1521V1541.5L652.7 1540"/>
<path class="m" d="M648.7 1429.5V1510.5M652.7 1428V1509L648.7 1511M645.6 1428.5L648.7 1430.5L652.7 1428.2L655.3 1429.2"/>
<polygon class="m" points="667.5,1493.7 673.1,1491 673.1,1529.8 667.5,1532.9"/>
<polygon class="f" points="667.5,1501.5 673.1,1498.8 673.1,1524 667.5,1526.8"/>
<text transform="matrix(0 -1 1 -0.5 672.3 1524.3)" font-size="5.6" textLength="24" lengthAdjust="spacingAndGlyphs" style="fill:#fff;font-weight:bold">BOTTOM</text>
<polyline class="w" points="1319.8,423.9 1319.8,846.4 1331.3,852.9 1364.8,833.5 1364.8,410.4 1353.2,404 1319.8,423.9"/>
<polyline class="m" points="1319.8,423.9 1331.3,429.8 1331.3,852.9"/>
<line class="m" x1="1331.3" y1="429.8" x2="1364.8" y2="410.4"/>
<line class="t" x1="1322" y1="425.2" x2="1322" y2="847.6"/>
<line class="t" x1="1347.7" y1="420.4" x2="1347.7" y2="843.4"/>
<polyline class="t" points="1327.3,422.1 1349.3,409 1356.8,412.5 1333.7,425.6 1327.3,422.1"/>
<polyline class="t" points="1327.3,422.1 1327.3,420 1331.5,417.6 1331.5,415.2 1335.5,413 1337.5,414"/>
<polyline class="t" points="1349.3,409 1349.3,406.5"/>
<ellipse class="k" cx="1348" cy="494.2" rx="5.5" ry="9.4" transform="rotate(24 1348 494.2)"/>
<polyline class="m" points="1348.2,502.1 1347.4,502.2 1346.6,502.1 1345.9,501.8 1345.3,501.4 1344.7,500.8 1344.3,500 1343.9,499.2 1343.7,498.2 1343.6,497.1 1343.6,496 1343.8,494.7 1344,493.5 1344.4,492.3 1344.9,491.1 1345.5,489.9 1346.1,488.8 1346.9,487.8 1347.7,486.9"/>
<ellipse class="k" cx="1348" cy="550.6" rx="5.5" ry="9.4" transform="rotate(24 1348 550.6)"/>
<polyline class="m" points="1348.2,558.5 1347.4,558.6 1346.6,558.5 1345.9,558.2 1345.3,557.8 1344.7,557.2 1344.3,556.4 1343.9,555.6 1343.7,554.6 1343.6,553.5 1343.6,552.4 1343.8,551.1 1344,549.9 1344.4,548.7 1344.9,547.5 1345.5,546.3 1346.1,545.2 1346.9,544.2 1347.7,543.3"/>
<ellipse class="k" cx="1348" cy="768.8" rx="5.5" ry="9.4" transform="rotate(24 1348 768.8)"/>
<polyline class="m" points="1348.2,776.7 1347.4,776.8 1346.6,776.7 1345.9,776.4 1345.3,776 1344.7,775.4 1344.3,774.6 1343.9,773.8 1343.7,772.8 1343.6,771.7 1343.6,770.6 1343.8,769.3 1344,768.1 1344.4,766.9 1344.9,765.7 1345.5,764.5 1346.1,763.4 1346.9,762.4 1347.7,761.5"/>
<polyline class="k" points="1258.9,535.2 1281.9,521.6 1319.5,542.8"/>
<polyline class="k" points="1258.9,535.2 1319.5,569.4"/>
<line class="k" x1="1270.4" y1="528.4" x2="1319.5" y2="556"/>
<polyline class="k" points="1258.9,535.2 1258.9,708 1319.5,742.8"/>
<line x1="1319.6" y1="477" x2="1319.6" y2="795" style="stroke:#111;stroke-width:2.2"/>
<ellipse class="m" cx="1268.3" cy="551.4" rx="4.2" ry="5.8" transform="rotate(-25 1268.3 551.4)"/>
<line class="t" x1="1266.1" y1="548" x2="1270.5" y2="554.8"/>
<line class="t" x1="1265.5" y1="553.4" x2="1271.1" y2="549.4"/>
<ellipse class="m" cx="1316.2" cy="579.6" rx="4.2" ry="5.8" transform="rotate(-25 1316.2 579.6)"/>
<line class="t" x1="1314" y1="576.2" x2="1318.4" y2="583"/>
<line class="t" x1="1313.4" y1="581.6" x2="1319" y2="577.6"/>
<ellipse class="m" cx="1268.3" cy="704" rx="4.2" ry="5.8" transform="rotate(-25 1268.3 704)"/>
<line class="t" x1="1266.1" y1="700.6" x2="1270.5" y2="707.4"/>
<line class="t" x1="1265.5" y1="706" x2="1271.1" y2="702"/>
<ellipse class="m" cx="1316.2" cy="733.2" rx="4.2" ry="5.8" transform="rotate(-25 1316.2 733.2)"/>
<line class="t" x1="1314" y1="729.8" x2="1318.4" y2="736.6"/>
<line class="t" x1="1313.4" y1="735.2" x2="1319" y2="731.2"/>
<ellipse cx="1281.9" cy="567.6" rx="4.4" ry="6.4" transform="rotate(-25 1281.9 567.6)" style="fill:#333;stroke:#111;stroke-width:1"/>
<ellipse cx="1281.9" cy="567.6" rx="1.6" ry="2.6" transform="rotate(-25 1281.9 567.6)" style="fill:#777;stroke:none"/>
<ellipse cx="1281.9" cy="647" rx="4.4" ry="6.4" transform="rotate(-25 1281.9 647)" style="fill:#333;stroke:#111;stroke-width:1"/>
<ellipse cx="1281.9" cy="647" rx="1.6" ry="2.6" transform="rotate(-25 1281.9 647)" style="fill:#777;stroke:none"/>
<ellipse class="k" cx="1281.9" cy="607.3" rx="9.8" ry="14.2" transform="rotate(-24 1281.9 607.3)"/>
<polygon class="m" points="1275.6,597.3 1287.1,604.1 1286.6,616.7 1275.6,609.9"/>
<line class="m" x1="1275.6" y1="609.9" x2="1287.1" y2="604.1"/>
<path class="h" d="M1174.8 651.4Q1190 645 1203.2 637.9L1256.7 606.5"/>
<path class="h" d="M1182.8 661.9L1217.9 644.7L1272.1 613.3"/>
<path class="h" d="M1186.5 678.5L1217.9 663.1L1271.5 632.3"/>
<polyline class="h" points="1203.2,637.9 1217.9,644.7 1217.9,663.1"/>
<path class="h" d="M1174.8 653.9Q1185.3 662 1185.3 676.1Q1185 687 1176.1 690.2"/>
<path class="t" d="M1174.8 658.5Q1181.5 665 1181.5 676Q1181.2 684 1175.3 686.5"/>
<path class="hw" d="M1107.9 652C1107.9 649.3 1107.9 641.2 1107.9 636C1107.9 630.8 1107.4 625.1 1107.9 620.8C1108.4 616.5 1109.1 613.5 1110.9 610.3C1112.7 607.1 1116 603.9 1118.9 601.7C1121.8 599.6 1125.6 598.3 1128.2 597.4C1130.8 596.5 1132.2 596.2 1134.3 596.2C1136.4 596.2 1138.6 596.4 1141.1 597.4C1143.6 598.4 1146.3 600 1149.1 602.3C1151.9 604.5 1154.8 607.2 1157.7 610.9C1160.6 614.6 1164 620.2 1166.4 624.5C1168.8 628.8 1170.5 632.5 1171.9 636.8C1173.3 641.1 1174.2 639.8 1174.7 650.3C1175.2 660.8 1175 684.2 1175 700C1175 715.8 1175 735.8 1174.8 745C1174.5 754.2 1174.4 752.5 1173.5 755.3C1172.6 758.1 1171.1 759.9 1169.2 761.8C1167.3 763.7 1164.7 765.1 1162.2 766.6C1159.7 768.1 1157 770 1154.4 771C1151.8 772 1147.8 772.1 1146.5 772.3"/>
<line class="h" x1="1109.3" y1="624" x2="1109.3" y2="650"/>
<path class="h" d="M1127.6 599.2C1129.1 599.6 1133.8 600.2 1136.8 601.7C1139.8 603.2 1142.5 605.3 1145.4 607.9C1148.3 610.5 1151.4 613.7 1154 617.1C1156.6 620.5 1158.8 624.5 1160.8 628.2C1162.8 631.9 1164.5 635.8 1165.7 639.3C1166.9 642.8 1167.5 645.6 1167.9 649.1C1168.3 652.6 1168.2 651.5 1168.2 660C1168.2 668.5 1168.2 685.4 1168.2 700C1168.2 714.6 1168.2 738.3 1167.9 747.9C1167.6 757.5 1167.5 754.5 1166.6 757.5C1165.6 760.5 1162.9 764.8 1162.2 766.2"/>
<path class="h" d="M1110.3 648.5C1110.3 646.4 1110.3 640 1110.3 636C1110.3 632 1109.9 628.1 1110.3 624.5C1110.7 620.9 1111.4 617.3 1112.8 614.6C1114.2 611.9 1116.8 609.7 1118.9 608.5C1121.1 607.3 1123.3 607.1 1125.7 607.2C1128.1 607.3 1130.5 607.9 1133.1 609.1C1135.7 610.3 1138.4 612.2 1141.1 614.6C1143.8 617 1146.7 620.2 1149.1 623.3C1151.5 626.4 1153.6 629.6 1155.3 633.1C1157 636.6 1158.2 641 1159 644.2C1159.8 647.4 1159.7 642.9 1159.9 652.2C1160.1 661.5 1160.2 684.3 1160.2 700C1160.2 715.7 1160.2 737.4 1160 746.6C1159.8 755.8 1160 752.4 1159.2 755.3C1158.4 758.2 1157.3 762 1155.3 764C1153.3 766 1148.7 766.9 1147.4 767.5"/>
<path class="h" d="M1159.9 652.2Q1163.3 655.5 1168.2 652.8L1174.7 650"/>
<path class="h" d="M1160 746.6Q1163 749.6 1167.9 748L1174.8 745.2"/>
<ellipse class="h" cx="1134.8" cy="631.9" rx="10.6" ry="16.4" transform="rotate(-21 1134.8 631.9)"/>
<ellipse class="h" cx="1136.3" cy="631.5" rx="8.3" ry="12.4" transform="rotate(-21 1136.3 631.5)"/>
<ellipse class="h" cx="1138.8" cy="630.3" rx="5.2" ry="8" transform="rotate(-21 1138.8 630.3)"/>
<path class="h" d="M1138.5 622.5Q1144.5 627 1144.2 637"/>
<path class="hw" d="M1146.6 772.5C1146.3 777 1145.1 788.4 1144.7 799.4C1144.3 810.4 1143.9 824.8 1144.2 838.8C1144.5 852.8 1145.6 870.1 1146.7 883.2C1147.8 896.3 1149.8 908.6 1150.6 917.6C1151.4 926.6 1152.4 931.5 1151.6 937.3C1150.8 943 1148.8 948.7 1145.7 952.1C1142.6 955.5 1138 957.8 1132.9 957.5C1127.8 957.2 1120.1 954.1 1115.2 950.1C1110.3 946.1 1105.6 939.5 1103.3 933.4C1101 927.3 1101.2 922.1 1101.4 913.7C1101.7 905.3 1103.7 895.7 1104.8 883.2C1105.9 870.7 1107.2 851.9 1107.8 838.8C1108.4 825.6 1108.7 817.4 1108.3 804.3C1107.9 791.2 1106.3 772.8 1105.3 760C1104.2 747.2 1103.1 738.3 1102 727.8C1100.9 717.3 1099.4 705.6 1098.8 697C1098.2 688.4 1098.5 681 1098.6 676C1098.7 671 1098.6 670 1099.2 667C1099.8 664 1100.8 660.4 1102.3 657.7C1103.8 655 1106.2 652.8 1108.5 651C1110.8 649.2 1113.4 647.8 1115.9 646.7C1118.4 645.6 1121 644.5 1123.3 644.2C1125.5 643.9 1127.2 644.1 1129.4 644.8C1131.7 645.5 1134.1 646.5 1136.8 648.5C1139.5 650.5 1142.7 653.4 1145.4 656.5C1148.1 659.6 1150.8 663.2 1152.8 667C1154.8 670.8 1156.6 676.1 1157.7 679.3C1158.8 682.5 1159.2 682.5 1159.6 686C1160 689.5 1160.1 695.7 1160.2 700C1160.3 704.3 1160.3 707.7 1160 711.8C1159.7 715.9 1158.8 721.2 1158.3 724.8C1157.8 728.4 1157.4 731.8 1157 733.5C1156.6 735.2 1157.1 734.1 1156.1 734.8C1155.1 735.5 1151.9 736.9 1150.9 737.5C1150 738.1 1150.7 737.1 1150.4 738.5C1150.1 739.9 1149.7 741.8 1149.2 746C1148.7 750.2 1147.8 759.6 1147.4 764C1147 768.4 1146.7 771.1 1146.6 772.5"/>
<path class="h" d="M1110.3 648.5C1111.4 648.2 1114.7 646.9 1117.1 646.7C1119.5 646.5 1121.8 646.4 1124.5 647.3C1127.2 648.2 1130.3 650.1 1133.1 652.2C1135.9 654.4 1138.5 657.2 1141.1 660.2C1143.7 663.2 1146.5 666.3 1148.5 670C1150.5 673.7 1152.4 677.4 1153.4 682.4C1154.4 687.4 1154.7 694 1154.7 700C1154.7 706 1154 712 1153.3 718.3C1152.6 724.6 1151 734.6 1150.5 737.9"/>
<path class="h" d="M1103.2 700C1103.2 696 1102.8 681.3 1103.2 676.2C1103.6 671.1 1104.2 671 1105.4 669.4C1106.6 667.8 1108.5 666.7 1110.3 666.4C1112.1 666.1 1114.1 666.3 1116.5 667.6C1118.9 668.9 1122.2 671.9 1124.5 674.4C1126.8 676.9 1128.6 679 1130 682.4C1131.4 685.8 1132.5 691.3 1133.1 694.7C1133.7 698.1 1133.6 698.5 1133.4 703C1133.2 707.5 1132.8 711.3 1131.7 721.6C1130.6 731.9 1128.2 750.1 1126.8 764.7C1125.4 779.3 1124 795.3 1123.5 809.3C1123 823.3 1123.4 833.9 1124 848.7C1124.6 863.5 1125.8 884 1127 897.9C1128.2 911.8 1130.6 925 1130.9 932.4C1131.2 939.8 1130.6 940.2 1129 942.3C1127.4 944.4 1124.4 946.2 1121.1 945.2C1117.8 944.2 1111.9 940.7 1109.3 936.4C1106.7 932.1 1105.3 928.5 1105.3 919.6C1105.3 910.7 1108.2 896.7 1109.3 883.2C1110.4 869.7 1111.2 851.9 1111.7 838.8C1112.2 825.6 1112.5 817.4 1112.2 804.3C1112 791.2 1111.2 772.8 1110.2 760C1109.2 747.2 1107.1 737.8 1105.9 727.8C1104.7 717.8 1103.7 704.6 1103.2 700"/>
<text class="s" x="1007.9" y="801.7" font-size="16" textLength="64.2" lengthAdjust="spacingAndGlyphs">KTS.310</text>
<line class="d" x1="1008.4" y1="805.5" x2="1106" y2="805.5"/>
<rect class="m" x="1392.1" y="959.3" width="27.6" height="901.6"/>
<rect class="m" x="1379.6" y="968.8" width="12.5" height="29.8"/>
<rect class="m" x="1379.6" y="1823" width="12.5" height="29.8"/>
<polyline class="m" points="1392.1,1094.8 1375,1094.8 1375,1286.3 1228.7,1286.3 1228.7,1657.2 1375,1657.2 1375,1726 1392.1,1726"/>
<circle class="m" cx="1252.3" cy="1309.3" r="11.4"/>
<path class="m" d="M1245.2 1304.4L1247.4 1302.2L1252.3 1307.1L1257.2 1302.2L1259.4 1304.4L1254.5 1309.3L1259.4 1314.2L1257.2 1316.4L1252.3 1311.5L1247.4 1316.4L1245.2 1314.2L1250.1 1309.3Z"/>
<circle class="m" cx="1375" cy="1309.3" r="11.4"/>
<path class="m" d="M1367.9 1304.4L1370.1 1302.2L1375 1307.1L1379.9 1302.2L1382.1 1304.4L1377.2 1309.3L1382.1 1314.2L1379.9 1316.4L1375 1311.5L1370.1 1316.4L1367.9 1314.2L1372.8 1309.3Z"/>
<circle class="m" cx="1252.3" cy="1633.9" r="11.4"/>
<path class="m" d="M1245.2 1629L1247.4 1626.8L1252.3 1631.7L1257.2 1626.8L1259.4 1629L1254.5 1633.9L1259.4 1638.8L1257.2 1641L1252.3 1636.1L1247.4 1641L1245.2 1638.8L1250.1 1633.9Z"/>
<circle class="m" cx="1375" cy="1633.9" r="11.4"/>
<path class="m" d="M1367.9 1629L1370.1 1626.8L1375 1631.7L1379.9 1626.8L1382.1 1629L1377.2 1633.9L1382.1 1638.8L1379.9 1641L1375 1636.1L1370.1 1641L1367.9 1638.8L1372.8 1633.9Z"/>
<circle class="m" cx="1284.8" cy="1327.7" r="12.9"/>
<circle class="m" cx="1284.8" cy="1327.7" r="11.3"/>
<circle class="k" cx="1284.8" cy="1327.7" r="9.2"/>
<circle class="m" cx="1284.8" cy="1496.5" r="12.9"/>
<circle class="m" cx="1284.8" cy="1496.5" r="11.3"/>
<circle class="k" cx="1284.8" cy="1496.5" r="9.2"/>
<circle class="m" cx="1284.2" cy="1411.7" r="25.7"/>
<rect class="m" x="1270.1" y="1397.6" width="29" height="29"/>
<line class="m" x1="1284.8" y1="1342.6" x2="1284.8" y2="1802.6"/>
<line class="m" x1="1144.2" y1="1327.7" x2="1270.7" y2="1327.7"/>
<line class="m" x1="1144.2" y1="1496.5" x2="1269.3" y2="1496.5"/>
<line class="m" x1="1154.7" y1="1329" x2="1154.7" y2="1400.3"/>
<line class="m" x1="1154.7" y1="1426" x2="1154.7" y2="1496"/>
<polygon class="f" points="1154.7,1328.2 1157.3,1343.2 1152.1,1343.2"/>
<polygon class="f" points="1154.7,1496 1152.1,1481 1157.3,1481"/>
<text class="s" x="1143.1" y="1419.3" font-size="19" textLength="23.8" lengthAdjust="spacingAndGlyphs">43</text>
<line class="m" x1="1284.8" y1="1793.7" x2="1392.1" y2="1793.7"/>
<polygon class="f" points="1285.3,1793.7 1300.3,1791.1 1300.3,1796.3"/>
<polygon class="f" points="1391.6,1793.7 1376.6,1796.3 1376.6,1791.1"/>
<line class="k2" x1="1392.1" y1="1778.3" x2="1392.1" y2="1808"/>
<text class="s" x="1325.1" y="1787.8" font-size="19" textLength="23.9" lengthAdjust="spacingAndGlyphs">27</text>
<text class="s" x="1445.7" y="1416.6" font-size="20" textLength="63.2" lengthAdjust="spacingAndGlyphs">İG.330</text>
<line class="d" x1="1419.7" y1="1420.5" x2="1514.5" y2="1420.5"/>
<text class="s" x="1153.1" y="1163.8" font-size="27" textLength="82.1" lengthAdjust="spacingAndGlyphs">13 MM</text>
<polygon class="f" points="1197.5,1177.4 1207.8,1195.8 1187.2,1195.8"/>
<line class="k" x1="1197.5" y1="1195" x2="1197.5" y2="1239.7"/>
<text class="s" x="1153.1" y="1768" font-size="27" textLength="82.1" lengthAdjust="spacingAndGlyphs">13 MM</text>
<polygon class="f" points="1197.5,1738.2 1207.8,1720 1187.2,1720"/>
<line class="k" x1="1197.5" y1="1677.2" x2="1197.5" y2="1721"/>
<text class="seb" x="932.1" y="1767.7" font-size="21.5" textLength="202.9" lengthAdjust="spacingAndGlyphs">GEARBOX HAREKET</text>
<text class="seb" x="932.1" y="1797.6" font-size="21.5" textLength="102" lengthAdjust="spacingAndGlyphs">MESAFESİ</text>
<text class="seg" x="932.1" y="1823.5" font-size="21.5" textLength="203.3" lengthAdjust="spacingAndGlyphs">GEARBOX CONTROL</text>
<text class="seg" x="932.1" y="1849.2" font-size="21.5" textLength="121.9" lengthAdjust="spacingAndGlyphs">MOVEMENT</text>
<line class="k" x1="262.5" y1="1706.4" x2="262.5" y2="1983.6"/>
<line class="t" x1="265.1" y1="1706.4" x2="265.1" y2="1985"/>
<line class="k" x1="267.7" y1="1706.4" x2="267.7" y2="1986.5"/>
<line class="t" x1="271.5" y1="1706.4" x2="271.5" y2="1984.5"/>
<line class="k" x1="282.7" y1="1705" x2="282.7" y2="1990"/>
<line class="k" x1="309.7" y1="1696.5" x2="309.7" y2="1973.2"/>
<line class="k" x1="311.3" y1="1696.5" x2="311.3" y2="1972.4"/>
<line class="k" x1="338" y1="1673.3" x2="338" y2="1956.4"/>
<path class="br" d="M254.7 1706.4Q268 1707.5 282.7 1704.5Q303 1700 321 1688"/>
<path class="br" d="M326 1684.5Q338 1675.5 347.8 1662.9"/>
<polyline class="k" points="262.5,1983.6 267.7,1986.5 271.5,1984.5 282.7,1990 338,1956.4"/>
<ellipse class="w" cx="310.3" cy="1940.7" rx="9" ry="15.8" transform="rotate(36 310.3 1940.7)"/>
<path class="t" d="M302.8 1949Q308 1940 316.5 1929.5"/>
<path class="t" d="M304.5 1953.5L318.5 1944.5"/>
<line class="m" x1="338" y1="1877.6" x2="293.5" y2="1978.4"/>
<line class="m" x1="254.7" y1="1973.2" x2="350.4" y2="1917.6"/>
<text class="s" x="344.1" y="1873.7" font-size="23.5" textLength="37.2" lengthAdjust="spacingAndGlyphs">Ø8</text>
<line class="m" x1="338" y1="1877.6" x2="380.2" y2="1877.6"/>
<text class="s" x="371.3" y="1904.7" font-size="23.5" textLength="29.3" lengthAdjust="spacingAndGlyphs">10</text>
<line class="m" x1="370.3" y1="1907.8" x2="399.5" y2="1907.8"/>
<line class="m" x1="371.1" y1="1907.8" x2="371.1" y2="1957.7"/>
<line class="k" x1="345.2" y1="1924.8" x2="375" y2="1924.8"/>
<line class="k" x1="343" y1="1957.5" x2="375" y2="1957.5"/>
<polygon class="f" points="371.3,1925.3 372.6,1931 370,1931"/><polygon class="f" points="371.3,1957 372.6,1951.3 370,1951.3"/>
<line class="dd" x1="338" y1="1956.4" x2="390.5" y2="1986.2"/>
<text class="s" x="182.5" y="1831" font-size="18" textLength="46.2" lengthAdjust="spacingAndGlyphs">8241</text>
<line class="dg" x1="170.7" y1="1842.5" x2="267.7" y2="1842.5"/>
<circle class="h" cx="395.6" cy="1988.4" r="6.6"/>
<path class="hw" d="M391.7 1994L419.8 1976.3L430.9 1982.2L431.3 1988V2160.2L436.8 2163.2V2199.4Q436.8 2206 431.6 2211.2Q415 2224 396.9 2228.2L387.3 2218.6L382.9 2214.2V2178.7L391 2171.3L391.7 2166V2038.3L387.3 2040V2165.4L380.6 2168.4L376.9 2166.1V2036.8L391.7 2031Z"/>
<path class="h" d="M391.7 1994Q398 1996.5 404.3 1994.8Q418 1991 430.9 1982.2"/>
<path class="h" d="M391.7 1996.2L404.3 2000.6L431.3 1988"/>
<path class="h" d="M404.3 2000.6V2178.7L399 2185L396.2 2190.5L396.9 2228.2"/>
<line class="h" x1="399.8" y1="1999" x2="399.8" y2="2176"/>
<path class="h" d="M380.6 2040V2168M376.9 2036.8L380.6 2040L387.3 2037.5"/>
<polygon class="hw" points="375.8,2052.4 383.6,2054.6 383.6,2068.6 375.8,2066.4"/>
<polygon class="hw" points="375.8,2136.6 383.6,2138.8 383.6,2152.1 375.8,2150.6"/>
<path class="h" d="M391 2171.3L399 2175.5M387.3 2180.2L396.2 2184M387.3 2180.2V2218.6M387.3 2211L396.2 2214.5"/>
<polygon class="h" points="413.1,2138.8 424.2,2132.9 424.2,2209.7 413.1,2215.6"/>
<polygon class="f" points="413.1,2152 424.2,2146.5 424.2,2194 413.1,2199.7"/>
<text transform="matrix(0 -1 1 -0.53 422.5 2193)" font-size="10" textLength="45" lengthAdjust="spacingAndGlyphs" style="fill:#fff;font-weight:bold">BOTTOM</text>
<text class="s" x="464.5" y="2145.5" font-size="19.6" textLength="83.5" lengthAdjust="spacingAndGlyphs">TSA.332</text>
<line class="d" x1="440.5" y1="2154.5" x2="542.5" y2="2154.5"/>
</svg>
</body></html>
